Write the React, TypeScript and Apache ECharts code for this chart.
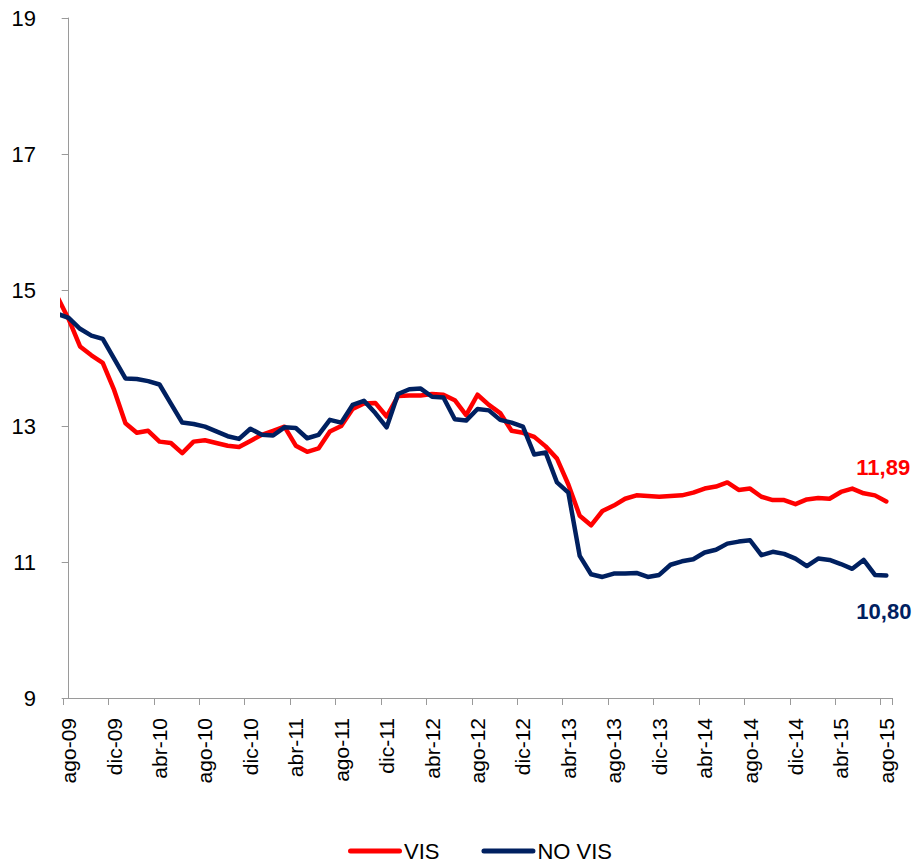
import React, { useEffect, useRef } from "react";
import * as echarts from "echarts";

const FONT = "'Liberation Sans', Arial, sans-serif";

const categories = [
  "ago-09", "sep-09", "oct-09", "nov-09", "dic-09", "ene-10", "feb-10", "mar-10",
  "abr-10", "may-10", "jun-10", "jul-10", "ago-10", "sep-10", "oct-10", "nov-10",
  "dic-10", "ene-11", "feb-11", "mar-11", "abr-11", "may-11", "jun-11", "jul-11",
  "ago-11", "sep-11", "oct-11", "nov-11", "dic-11", "ene-12", "feb-12", "mar-12",
  "abr-12", "may-12", "jun-12", "jul-12", "ago-12", "sep-12", "oct-12", "nov-12",
  "dic-12", "ene-13", "feb-13", "mar-13", "abr-13", "may-13", "jun-13", "jul-13",
  "ago-13", "sep-13", "oct-13", "nov-13", "dic-13", "ene-14", "feb-14", "mar-14",
  "abr-14", "may-14", "jun-14", "jul-14", "ago-14", "sep-14", "oct-14", "nov-14",
  "dic-14", "ene-15", "feb-15", "mar-15", "abr-15", "may-15", "jun-15", "jul-15",
  "ago-15",
];

// value of the month before the first category (jul-09), partly visible at the axis edge
const visPrev = 14.9;
const noVisPrev = 14.65;

const vis = [
  14.57, 14.17, 14.04, 13.93, 13.53, 13.04, 12.9, 12.93,
  12.77, 12.75, 12.6, 12.77, 12.79, 12.75, 12.71, 12.69,
  12.78, 12.87, 12.93, 12.99, 12.71, 12.62, 12.67, 12.92,
  13.0, 13.25, 13.33, 13.34, 13.14, 13.44, 13.45, 13.45,
  13.47, 13.46, 13.38, 13.16, 13.46, 13.31, 13.19, 12.93,
  12.9, 12.84, 12.7, 12.52, 12.14, 11.68, 11.54, 11.75,
  11.83, 11.93, 11.98, 11.97, 11.96, 11.97, 11.98, 12.02,
  12.08, 12.11, 12.17, 12.06, 12.08, 11.96, 11.91, 11.91,
  11.85, 11.92, 11.94, 11.93, 12.03, 12.08, 12.01, 11.98,
  11.89,
];

const noVis = [
  14.59, 14.43, 14.33, 14.28, 13.99, 13.7, 13.69, 13.66,
  13.61, 13.33, 13.05, 13.03, 12.99, 12.92, 12.85, 12.81,
  12.96, 12.87, 12.86, 12.98, 12.97, 12.82, 12.87, 13.09,
  13.05, 13.31, 13.37, 13.19, 12.98, 13.47, 13.54, 13.55,
  13.43, 13.42, 13.1, 13.08, 13.25, 13.23, 13.09, 13.05,
  12.99, 12.58, 12.61, 12.17, 12.02, 11.09, 10.82, 10.78,
  10.83, 10.83, 10.84, 10.78, 10.81, 10.96, 11.01, 11.04,
  11.14, 11.18, 11.27, 11.3, 11.32, 11.1, 11.15, 11.12,
  11.05, 10.94, 11.05, 11.03, 10.97, 10.9, 11.03, 10.81,
  10.8,
];

const yTicks = { min: 9, max: 19, interval: 2 };

const RED = "#FF0000";
const NAVY = "#002060";
const AXIS_GRAY = "#9a9a9a";

const LEGEND_ICON = "path://M2.5,0 H51.5 A2.5,2.5 0 0 1 51.5,5 H2.5 A2.5,2.5 0 0 1 2.5,0 Z";

function toPoints(prev: number, values: number[]) {
  return [[-1, prev], ...values.map((v, i) => [i, v])];
}

const fmt = (p: any) => {
  const v = Array.isArray(p.value) ? p.value[1] : p.value;
  return Number(v).toFixed(2).replace(".", ",");
};

export default function App() {
  const ref = useRef<HTMLDivElement>(null);

  useEffect(() => {
    document.body.style.margin = "0";
    if (!ref.current) return;
    const chart = echarts.init(ref.current, null, { renderer: "svg" });
    const option: any = {
      animation: false,
      textStyle: { fontFamily: FONT },
      grid: { left: 63, top: 18, right: 26, bottom: 167 },
      legend: {
        data: ["VIS", "NO VIS"],
        left: 348,
        top: 840,
        padding: 0,
        icon: LEGEND_ICON,
        itemWidth: 54,
        itemHeight: 5,
        itemGap: 42,
        textStyle: { fontSize: 22, color: "#000", fontFamily: FONT, padding: [0, 0, 0, -3] },
      },
      xAxis: [
        {
          type: "category",
          data: categories,
          boundaryGap: true,
          axisLine: { show: true, lineStyle: { color: AXIS_GRAY, width: 1 } },
          axisTick: { show: true, interval: 3, length: 7, lineStyle: { color: AXIS_GRAY, width: 1 } },
          axisLabel: {
            interval: 3,
            rotate: 90,
            margin: 20,
            fontSize: 21,
            color: "#000",
            fontFamily: FONT,
          },
          splitLine: { show: false },
        },
        {
          type: "value",
          min: -0.5,
          max: categories.length - 0.5,
          show: false,
        },
      ],
      yAxis: {
        type: "value",
        min: yTicks.min,
        max: yTicks.max,
        interval: yTicks.interval,
        axisLine: { show: true, lineStyle: { color: AXIS_GRAY, width: 1 } },
        axisTick: { show: true, length: 7, lineStyle: { color: AXIS_GRAY, width: 1 } },
        axisLabel: { margin: 27, fontSize: 22, color: "#000", fontFamily: FONT },
        splitLine: { show: false },
      },
      series: [
        {
          name: "VIS",
          type: "line",
          xAxisIndex: 1,
          data: toPoints(visPrev, vis),
          symbol: "none",
          showSymbol: false,
          clip: true,
          color: RED,
          lineStyle: { color: RED, width: 4.5, cap: "round", join: "round" },
          itemStyle: { color: RED },
          endLabel: {
            show: true,
            formatter: fmt,
            color: RED,
            fontWeight: "bold",
            fontSize: 22,
            fontFamily: FONT,
            distance: 0,
            align: "left",
            verticalAlign: "middle",
            offset: [-30, -34],
          },
          z: 2,
        },
        {
          name: "NO VIS",
          type: "line",
          xAxisIndex: 1,
          data: toPoints(noVisPrev, noVis),
          symbol: "none",
          showSymbol: false,
          clip: true,
          color: NAVY,
          lineStyle: { color: NAVY, width: 4.5, cap: "round", join: "round" },
          itemStyle: { color: NAVY },
          endLabel: {
            show: true,
            formatter: fmt,
            color: NAVY,
            fontWeight: "bold",
            fontSize: 22,
            fontFamily: FONT,
            distance: 0,
            align: "left",
            verticalAlign: "middle",
            offset: [-30, 36],
          },
          z: 3,
        },
      ],
    };
    chart.setOption(option);
    return () => chart.dispose();
  }, []);

  return <div ref={ref} style={{ width: 918, height: 865 }} />;
}
